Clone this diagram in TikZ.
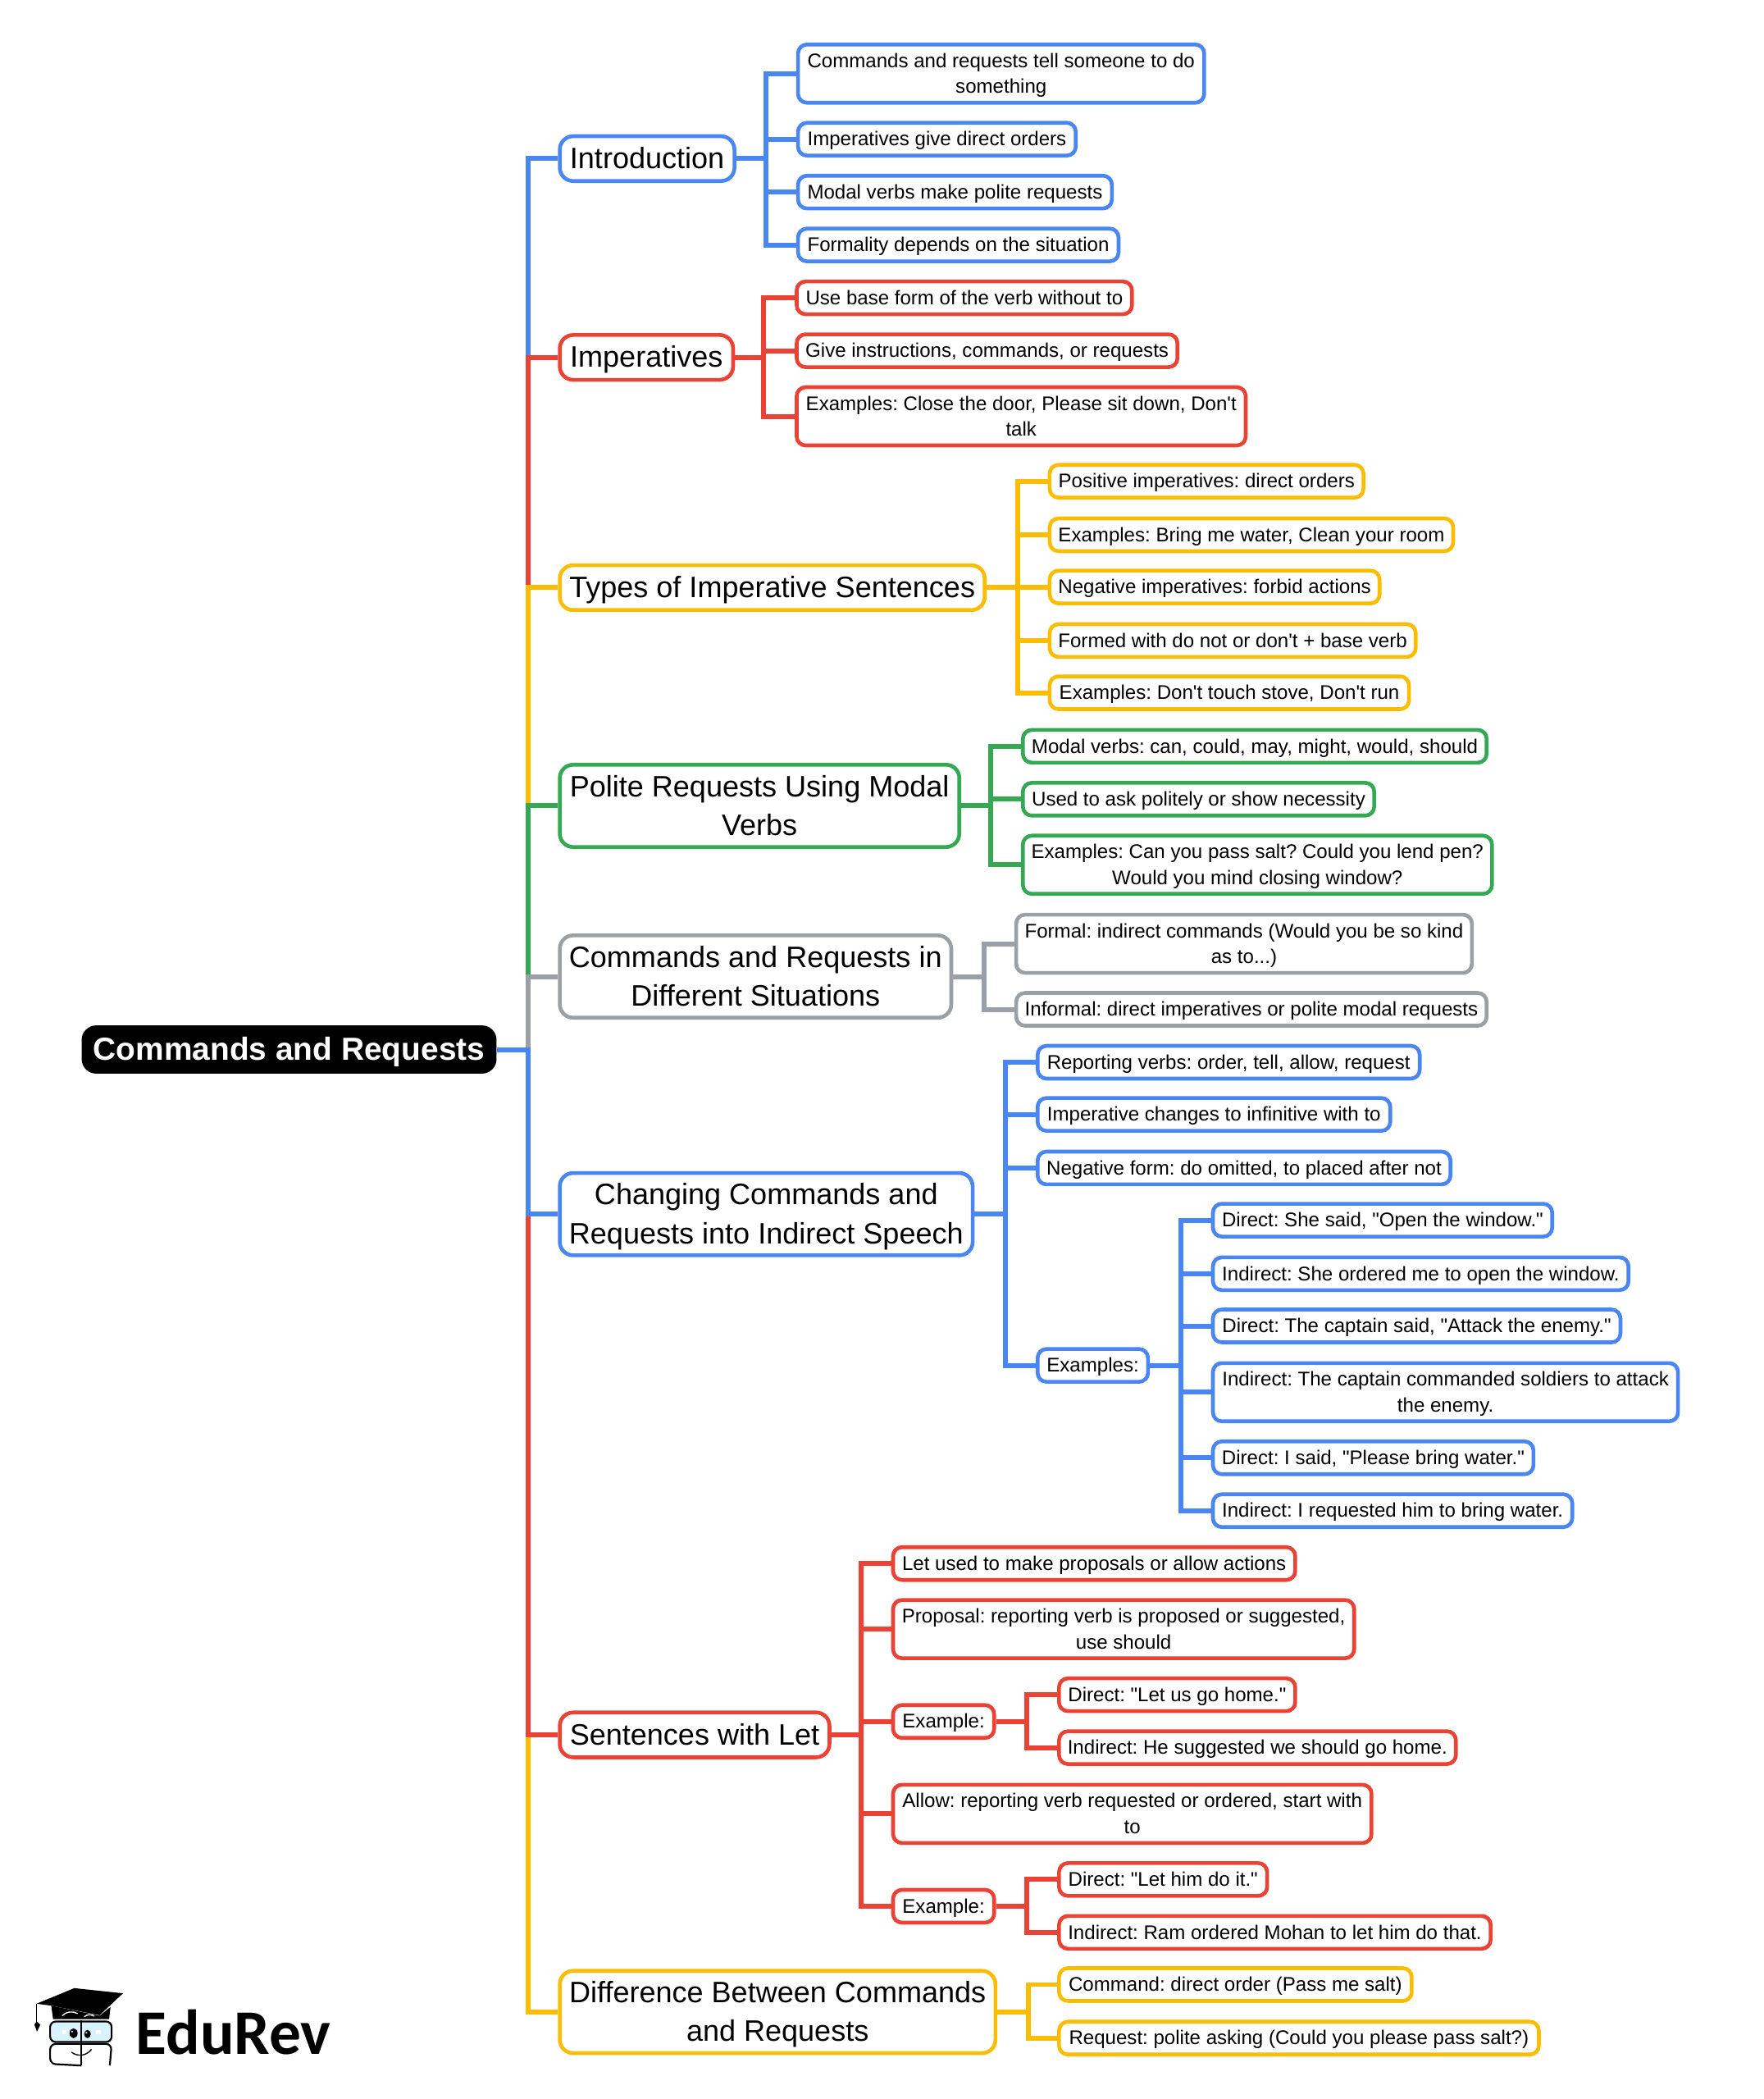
\documentclass[tikz,border=0pt]{standalone}
\usepackage{fontspec}
\usepackage{xcolor}
\newfontfamily\mapfont{Liberation Sans}
\newfontfamily\logofont{Carlito}
\definecolor{mapblue}{HTML}{4A86F2}
\definecolor{mapred}{HTML}{EA4335}
\definecolor{mapyellow}{HTML}{FBBC04}
\definecolor{mapgreen}{HTML}{34A853}
\definecolor{mapgrey}{HTML}{9AA0A6}
\frenchspacing
\newcommand{\mapstrut}{\rule[-0.21em]{0pt}{1.1em}}
\tikzset{
  wd/.style={minimum width=#1*0.6pt},
  ht/.style={minimum height=#1*0.6pt},
  boxtext/.style={inner sep=0pt, align=center, execute at begin node=\mapstrut, execute at end node=\mapstrut},
  rootbox/.style={boxtext, fill=black, text=white, rounded corners=6.5pt,
    font=\mapfont\bfseries\fontsize{14.3}{17.4}\selectfont, minimum height=21.6pt},
  branch/.style={boxtext, draw=#1, fill=white, line width=1.7pt, rounded corners=6pt,
    font=\mapfont\fontsize{13.25}{17.4}\selectfont, ht=33.5},
  leaf/.style={boxtext, draw=#1, fill=white, line width=1.7pt, rounded corners=4pt,
    font=\mapfont\fontsize{8.85}{11.5}\selectfont, ht=24.5},
  link/.style={draw=#1, line width=2.2pt}
}
\begin{document}
\begin{tikzpicture}[x=0.6pt, y=-0.6pt]
    \useasboundingbox (0,0) rectangle (1318,1568);

    % Root
    \node[rootbox, wd=310] (root) at (216,784) {Commands and Requests};

    % Main branches
    \node[branch=mapblue, wd=130.5] (intro) at (483.5,118.5) {Introduction};
    \node[branch=mapred, wd=129.5] (imper) at (483,267) {Imperatives};
    \node[branch=mapyellow, wd=317.5] (types) at (577,439) {Types of Imperative Sentences};
    \node[branch=mapgreen, wd=298.5, ht=61.5] (polite) at (567.5,602) {\mapstrut Polite Requests Using Modal\\Verbs\mapstrut};
    \node[branch=mapgrey, wd=292.5, ht=61.5] (situ) at (564.5,729.5) {\mapstrut Commands and Requests in\\Different Situations\mapstrut};
    \node[branch=mapblue, wd=308.5, ht=61.5] (change) at (572.5,907) {\mapstrut Changing Commands and\\Requests into Indirect Speech\mapstrut};
    \node[branch=mapred, wd=201.5] (letb) at (519,1296) {Sentences with Let};
    \node[branch=mapyellow, wd=325.5, ht=61.5] (diff) at (581,1503) {\mapstrut Difference Between Commands\\and Requests\mapstrut};

    % Introduction leaves
    \node[leaf=mapblue, wd=303.5, ht=43.5] (introa) at (748,55) {\mapstrut Commands and requests tell someone to do\\something\mapstrut};
    \node[leaf=mapblue, wd=207.5] (introb) at (700,104) {Imperatives give direct orders};
    \node[leaf=mapblue, wd=234.5] (introc) at (713.5,143.5) {Modal verbs make polite requests};
    \node[leaf=mapblue, wd=239.5] (introd) at (716,183) {Formality depends on the situation};

    % Imperatives leaves
    \node[leaf=mapred, wd=250.5] (impera) at (720.5,222.5) {Use base form of the verb without to};
    \node[leaf=mapred, wd=284.5] (imperb) at (737.5,262) {Give instructions, commands, or requests};
    \node[leaf=mapred, wd=335.5, ht=43.5] (imperc) at (763,311) {\mapstrut Examples: Close the door, Please sit down, Don't\\talk\mapstrut};

    % Types leaves
    \node[leaf=mapyellow, wd=234.5] (typesa) at (901.5,359.5) {Positive imperatives: direct orders};
    \node[leaf=mapyellow, wd=301.5] (typesb) at (935,399.5) {Examples: Bring me water, Clean your room};
    \node[leaf=mapyellow, wd=246.5] (typesc) at (907.5,438.5) {Negative imperatives: forbid actions};
    \node[leaf=mapyellow, wd=273.5] (typesd) at (921,478.5) {Formed with do not or don't + base verb};
    \node[leaf=mapyellow, wd=268.5] (typese) at (918.5,517.5) {Examples: Don't touch stove, Don't run};

    % Polite leaves
    \node[leaf=mapgreen, wd=346.5] (politea) at (937.5,557.5) {Modal verbs: can, could, may, might, would, should};
    \node[leaf=mapgreen, wd=262.5] (politeb) at (895.5,597) {Used to ask politely or show necessity};
    \node[leaf=mapgreen, wd=350.5, ht=43.5] (politec) at (939.5,646) {\mapstrut Examples: Can you pass salt? Could you lend pen?\\Would you mind closing window?\mapstrut};

    % Situation leaves
    \node[leaf=mapgrey, wd=340.5, ht=43.5] (situa) at (929.5,705) {\mapstrut Formal: indirect commands (Would you be so kind\\as to...)\mapstrut};
    \node[leaf=mapgrey, wd=351.5] (situb) at (935,754) {Informal: direct imperatives or polite modal requests};

    % Indirect speech leaves
    \node[leaf=mapblue, wd=285.5] (changea) at (918,793.5) {Reporting verbs: order, tell, allow, request};
    \node[leaf=mapblue, wd=263.5] (changeb) at (907,832.5) {Imperative changes to infinitive with to};
    \node[leaf=mapblue, wd=308.5] (changec) at (929.5,872.5) {Negative form: do omitted, to placed after not};
    \node[leaf=mapblue, wd=82.5] (changed) at (816.5,1020) {Examples:};
    \node[leaf=mapblue, wd=253.5] (exa) at (1033,911.5) {Direct: She said, "Open the window."};
    \node[leaf=mapblue, wd=310.5] (exb) at (1061.5,951.5) {Indirect: She ordered me to open the window.};
    \node[leaf=mapblue, wd=304.5] (exc) at (1058.5,990.5) {Direct: The captain said, "Attack the enemy."};
    \node[leaf=mapblue, wd=347.5, ht=43.5] (exd) at (1080,1040) {\mapstrut Indirect: The captain commanded soldiers to attack\\the enemy.\mapstrut};
    \node[leaf=mapblue, wd=239.5] (exe) at (1026,1089) {Direct: I said, "Please bring water."};
    \node[leaf=mapblue, wd=268.5] (exf) at (1040.5,1128.5) {Indirect: I requested him to bring water.};

    % Let leaves
    \node[leaf=mapred, wd=300.5] (leta) at (817.5,1168) {Let used to make proposals or allow actions};
    \node[leaf=mapred, wd=344.5, ht=43.5] (letc) at (839.5,1217) {\mapstrut Proposal: reporting verb is proposed or suggested,\\use should\mapstrut};
    \node[leaf=mapred, wd=75.5] (lete) at (705,1286) {Example:};
    \node[leaf=mapred, wd=357.5, ht=43.5] (letg) at (846,1355) {\mapstrut Allow: reporting verb requested or ordered, start with\\to\mapstrut};
    \node[leaf=mapred, wd=75.5] (leti) at (705,1424) {Example:};
    \node[leaf=mapred, wd=176.5] (leteone) at (879.5,1266) {Direct: "Let us go home."};
    \node[leaf=mapred, wd=296.5] (letetwo) at (939.5,1305.5) {Indirect: He suggested we should go home.};
    \node[leaf=mapred, wd=155.5] (letione) at (869,1404) {Direct: "Let him do it."};
    \node[leaf=mapred, wd=322.5] (letitwo) at (952.5,1443.5) {Indirect: Ram ordered Mohan to let him do that.};

    % Difference leaves
    \node[leaf=mapyellow, wd=263.5] (diffa) at (923,1482.5) {Command: direct order (Pass me salt)};
    \node[leaf=mapyellow, wd=358.5] (diffb) at (970.5,1522.5) {Request: polite asking (Could you please pass salt?)};

    % Trunk from the root
    \draw[link=mapblue] (root.east) -- ++(23,0) |- (intro.west);
    \draw[link=mapred] (root.east) -- ++(23,0) |- (imper.west);
    \draw[link=mapyellow] (root.east) -- ++(23,0) |- (types.west);
    \draw[link=mapgreen] (root.east) -- ++(23,0) |- (polite.west);
    \draw[link=mapgrey] (root.east) -- ++(23,0) |- (situ.west);
    \draw[link=mapyellow] (root.east) -- ++(23,0) |- (diff.west);
    \draw[link=mapred] (root.east) -- ++(23,0) |- (letb.west);
    \draw[link=mapblue] (root.east) -- ++(23,0) |- (change.west);

    % Branch connectors
    \draw[link=mapblue] (intro.east) -- ++(22,0) |- (introa.west);
    \draw[link=mapblue] (intro.east) -- ++(22,0) |- (introb.west);
    \draw[link=mapblue] (intro.east) -- ++(22,0) |- (introc.west);
    \draw[link=mapblue] (intro.east) -- ++(22,0) |- (introd.west);

    \draw[link=mapred] (imper.east) -- ++(21,0) |- (impera.west);
    \draw[link=mapred] (imper.east) -- ++(21,0) |- (imperb.west);
    \draw[link=mapred] (imper.east) -- ++(21,0) |- (imperc.west);

    \draw[link=mapyellow] (types.east) -- ++(23,0) |- (typesa.west);
    \draw[link=mapyellow] (types.east) -- ++(23,0) |- (typesb.west);
    \draw[link=mapyellow] (types.east) -- ++(23,0) |- (typesc.west);
    \draw[link=mapyellow] (types.east) -- ++(23,0) |- (typesd.west);
    \draw[link=mapyellow] (types.east) -- ++(23,0) |- (typese.west);

    \draw[link=mapgreen] (polite.east) -- ++(22,0) |- (politea.west);
    \draw[link=mapgreen] (polite.east) -- ++(22,0) |- (politeb.west);
    \draw[link=mapgreen] (polite.east) -- ++(22,0) |- (politec.west);

    \draw[link=mapgrey] (situ.east) -- ++(23,0) |- (situa.west);
    \draw[link=mapgrey] (situ.east) -- ++(23,0) |- (situb.west);

    \draw[link=mapblue] (change.east) -- ++(23,0) |- (changea.west);
    \draw[link=mapblue] (change.east) -- ++(23,0) |- (changeb.west);
    \draw[link=mapblue] (change.east) -- ++(23,0) |- (changec.west);
    \draw[link=mapblue] (change.east) -- ++(23,0) |- (changed.west);

    \draw[link=mapblue] (changed.east) -- ++(23,0) |- (exa.west);
    \draw[link=mapblue] (changed.east) -- ++(23,0) |- (exb.west);
    \draw[link=mapblue] (changed.east) -- ++(23,0) |- (exc.west);
    \draw[link=mapblue] (changed.east) -- ++(23,0) |- (exd.west);
    \draw[link=mapblue] (changed.east) -- ++(23,0) |- (exe.west);
    \draw[link=mapblue] (changed.east) -- ++(23,0) |- (exf.west);

    \draw[link=mapred] (letb.east) -- ++(22,0) |- (leta.west);
    \draw[link=mapred] (letb.east) -- ++(22,0) |- (letc.west);
    \draw[link=mapred] (letb.east) -- ++(22,0) |- (lete.west);
    \draw[link=mapred] (letb.east) -- ++(22,0) |- (letg.west);
    \draw[link=mapred] (letb.east) -- ++(22,0) |- (leti.west);

    \draw[link=mapred] (lete.east) -- ++(23,0) |- (leteone.west);
    \draw[link=mapred] (lete.east) -- ++(23,0) |- (letetwo.west);
    \draw[link=mapred] (leti.east) -- ++(23,0) |- (letione.west);
    \draw[link=mapred] (leti.east) -- ++(23,0) |- (letitwo.west);

    \draw[link=mapyellow] (diff.east) -- ++(23,0) |- (diffa.west);
    \draw[link=mapyellow] (diff.east) -- ++(23,0) |- (diffb.west);

    % Logo
    \begin{scope}[shift={(0,1378.7)}, x=0.1641pt, y=-0.1226pt]
      \fill (100,578) -- (203,521) -- (336,540) -- (272,620) -- (140,585) -- cycle;
      \fill (140,585) -- (272,622) -- (302,590) -- (298,634) -- (145,634) -- cycle;
      \draw[white, line width=0.5pt] (170,622) .. controls (180,606) and (200,604) .. (212,614);
      \draw[white, line width=0.5pt] (230,626) .. controls (238,616) and (250,616) .. (258,624);
      \draw[line width=0.4pt] (100,578) -- (100,650);
      \fill (100,642) -- (110,655) -- (101,680) -- (94,655) -- cycle;
      \draw[fill=cyan!15, line width=0.8pt, rounded corners=2.5pt] (137,643) rectangle (305,718);
      \draw[line width=0.8pt, rounded corners=2.5pt] (222,725) -- (137,725) -- (137,798) -- (222,804);
      \draw[line width=0.8pt, rounded corners=2.5pt] (222,725) -- (305,725) -- (300,804);
      \draw[line width=1pt] (222,638) -- (222,804);
      \fill (201,686) ellipse [x radius=11, y radius=18];
      \fill (239,689) ellipse [x radius=9, y radius=15];
      \fill[white] (197,680) circle (3);
      \fill[white] (236,684) circle (3);
      \fill[white] (170,675) rectangle (181,690);
      \fill[white] (262,675) rectangle (275,690);
      \draw[line width=0.5pt] (195,755) .. controls (212,772) and (235,770) .. (250,745);
      \node[anchor=base west, inner sep=0pt, font=\logofont\bfseries\fontsize{28.5}{30}\selectfont] (logotext) at (370,762) {EduRev};
    \end{scope}
\end{tikzpicture}
\end{document}
